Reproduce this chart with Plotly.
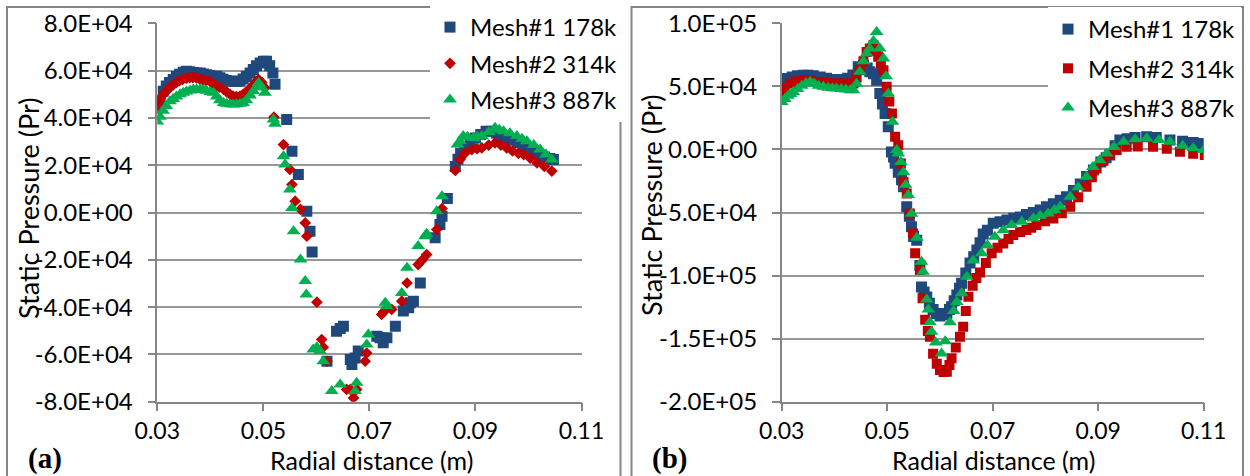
import plotly.graph_objects as go

W, H = 1250, 476

# ---------------- Panel (a) data ----------------
a_m1_x = [0.0300, 0.0305, 0.0311, 0.0317, 0.0323, 0.0330, 0.0336, 0.0342, 0.0349, 0.0355,
          0.0361, 0.0368, 0.0374, 0.0381, 0.0387, 0.0393, 0.0399, 0.0405, 0.0412, 0.0418,
          0.0424, 0.0430, 0.0437, 0.0443, 0.0449, 0.0456, 0.0462, 0.0468, 0.0475, 0.0481,
          0.0487, 0.0494, 0.0500, 0.0506, 0.0512, 0.0518, 0.0522,
          0.0544, 0.0554, 0.0566, 0.0582, 0.0588, 0.0592, 0.0620, 0.0638, 0.0645, 0.0651,
          0.0664, 0.0667, 0.0673, 0.0679, 0.0714, 0.0720, 0.0726, 0.0733, 0.0749, 0.0764,
          0.0774, 0.0777, 0.0783, 0.0796, 0.0824, 0.0833, 0.0837, 0.0847,
          0.0862, 0.0867, 0.0872, 0.0880, 0.0890, 0.0900, 0.0910, 0.0920, 0.0930, 0.0940,
          0.0950, 0.0960, 0.0970, 0.0980, 0.0990, 0.1000, 0.1010, 0.1020, 0.1030, 0.1040, 0.1047]
a_m1_y = [44200, 47500, 51300, 53500, 55000, 56200, 57500, 58500, 59300, 59700,
          59500, 59200, 59000, 59000, 58600, 58200, 57900, 57600, 57600, 57000,
          56300, 55800, 55500, 55500, 55500, 55500, 56500, 57500, 59000, 60500,
          62000, 63200, 64000, 64000, 62000, 59000, 54200,
          39300, 25900, 16100, 500, -7900, -16700, -62900, -50200, -49000, -48100,
          -62200, -64300, -61500, -58600, -52300, -53000, -55100, -53000, -48100, -41700,
          -40300, -38200, -37500, -29800, -10700, -5100, -1600, 5900,
          19500, 22500, 25000, 27500, 29500, 31500, 33000, 34400, 34400, 33500,
          32500, 31500, 30500, 29500, 28000, 26500, 25500, 24500, 23500, 22800, 22400]

a_m2_x = [0.0300, 0.0306, 0.0312, 0.0318, 0.0324, 0.0330, 0.0336, 0.0342, 0.0348, 0.0355,
          0.0361, 0.0367, 0.0374, 0.0380, 0.0386, 0.0392, 0.0399, 0.0405, 0.0411, 0.0417,
          0.0425, 0.0431, 0.0437, 0.0443, 0.0449, 0.0456, 0.0462, 0.0469, 0.0475, 0.0481,
          0.0487, 0.0491, 0.0497, 0.0503, 0.0520,
          0.0538, 0.0550, 0.0554, 0.0560, 0.0570, 0.0579, 0.0582, 0.0601, 0.0610, 0.0613,
          0.0620, 0.0657, 0.0664, 0.0670, 0.0676, 0.0692, 0.0695, 0.0723, 0.0727, 0.0742,
          0.0761, 0.0771, 0.0792, 0.0800, 0.0808, 0.0827, 0.0837,
          0.0862, 0.0871, 0.0880, 0.0893, 0.0903, 0.0912, 0.0925, 0.0937, 0.0948, 0.0959,
          0.0970, 0.0981, 0.0991, 0.1003, 0.1016, 0.1030, 0.1044]
a_m2_y = [45500, 48000, 50000, 51500, 53000, 54000, 55000, 55800, 56300, 56800,
          57000, 57000, 56900, 56500, 56000, 55800, 55500, 54500, 53500, 53000,
          52000, 51000, 50000, 49200, 49000, 49200, 50000, 51300, 52500, 54000,
          55500, 56200, 55000, 52700, 40300,
          28700, 18200, 11800, 4800, 1300, -4400, -10000, -37900, -53700, -57000,
          -62900, -74800, -74800, -78400, -74800, -62900, -59400, -43100, -42000, -41000,
          -37500, -29800, -22000, -20000, -17800, -7200, 1700,
          17800, 22400, 25000, 26600, 27000, 27300, 28500, 29400, 28500, 27300,
          26000, 25000, 24500, 23000, 21000, 19500, 17500]

a_m3_x = [0.0300, 0.0305, 0.0311, 0.0317, 0.0324, 0.0330, 0.0336, 0.0343, 0.0349, 0.0355,
          0.0362, 0.0368, 0.0374, 0.0381, 0.0387, 0.0393, 0.0400, 0.0406, 0.0412, 0.0418,
          0.0425, 0.0431, 0.0437, 0.0443, 0.0449, 0.0456, 0.0462, 0.0468, 0.0475, 0.0481,
          0.0487, 0.0491, 0.0497, 0.0503, 0.0519, 0.0522,
          0.0538, 0.0541, 0.0550, 0.0554, 0.0557, 0.0570, 0.0579, 0.0581, 0.0594, 0.0601,
          0.0607, 0.0613, 0.0629, 0.0645, 0.0673, 0.0676, 0.0695, 0.0698, 0.0730, 0.0733,
          0.0761, 0.0771, 0.0792, 0.0805, 0.0808, 0.0827, 0.0837,
          0.0866, 0.0871, 0.0877, 0.0885, 0.0896, 0.0904, 0.0912, 0.0925, 0.0937, 0.0945,
          0.0953, 0.0965, 0.0978, 0.0988, 0.0997, 0.1010, 0.1022, 0.1033, 0.1044]
a_m3_y = [38500, 40500, 43000, 45000, 47000, 48000, 49000, 50000, 50600, 51200,
          51600, 52000, 52000, 52000, 51800, 51500, 51000, 50600, 49000, 47500,
          46300, 46000, 45800, 45700, 45800, 46000, 46300, 47500, 49500, 51300,
          53000, 54800, 53000, 50600, 39300, 37500,
          23800, 20300, 9700, 1900, -7900, -19900, -29000, -34700, -57900, -57000,
          -58600, -62900, -75500, -72700, -75500, -72000, -55800, -51600, -38200, -39600,
          -34000, -23400, -14200, -10000, -9000, 500, 6900,
          28700, 30100, 32300, 32000, 31500, 32000, 32300, 34000, 35800, 35000,
          34400, 33500, 32300, 31200, 30100, 28500, 26600, 24500, 22400]

# ---------------- Panel (b) data ----------------
b_m1_x = [0.0298, 0.0305, 0.0310, 0.0320, 0.0330, 0.0341, 0.0350, 0.0360, 0.0373, 0.0385,
          0.0395, 0.0404, 0.0415, 0.0425, 0.0435, 0.0445, 0.0455, 0.0462, 0.0467, 0.0474,
          0.0480, 0.0486, 0.0491, 0.0496, 0.0502, 0.0508, 0.0512, 0.0515, 0.0521, 0.0527,
          0.0531, 0.0537, 0.0542, 0.0546, 0.0550, 0.0556, 0.0562, 0.0565, 0.0570, 0.0575,
          0.0580, 0.0587, 0.0593, 0.0600, 0.0607, 0.0613, 0.0618, 0.0622, 0.0627, 0.0632,
          0.0637, 0.0641, 0.0649, 0.0657, 0.0664, 0.0670, 0.0676, 0.0682, 0.0690, 0.0701,
          0.0714, 0.0727, 0.0740, 0.0752, 0.0764, 0.0777, 0.0790, 0.0802, 0.0815, 0.0828,
          0.0840, 0.0853, 0.0866, 0.0878, 0.0891, 0.0905, 0.0915, 0.0922, 0.0932, 0.0941,
          0.0955, 0.0970, 0.0992, 0.1010, 0.1036, 0.1060, 0.1080, 0.1099]
b_m1_y = [44400, 52000, 56300, 57500, 58500, 58900, 58800, 58500, 57500, 56500,
          55500, 54900, 55500, 56500, 59000, 65500, 66500, 64500, 61500, 60000,
          54900, 44400, 36000, 28500, 18000, -2000, -6000, -11000, -18000, -24000,
          -29600, -45500, -53000, -61300, -69000, -72000, -92000, -109000, -113000, -117000,
          -122000, -127000, -130000, -132000, -131000, -130000, -127000, -124700, -120000, -115500,
          -110000, -106000, -98000, -90000, -85000, -79800, -74000, -67000, -64000, -58500,
          -57400, -56000, -54500, -53500, -51500, -50000, -48000, -45500, -43000, -40200,
          -37600, -32500, -27500, -21500, -16400, -10000, -6500, -4500, 3000, 7400,
          8500, 9500, 10000, 9500, 7400, 6500, 5500, 4800]

b_m2_x = [0.0297, 0.0305, 0.0316, 0.0327, 0.0340, 0.0354, 0.0368, 0.0380, 0.0392, 0.0405,
          0.0418, 0.0430, 0.0436, 0.0442, 0.0448, 0.0455, 0.0461, 0.0467, 0.0474, 0.0479,
          0.0483, 0.0488, 0.0493, 0.0499, 0.0504, 0.0509, 0.0515, 0.0521, 0.0526, 0.0531,
          0.0537, 0.0543, 0.0549, 0.0553, 0.0562, 0.0567, 0.0572, 0.0577, 0.0581, 0.0587,
          0.0594, 0.0600, 0.0607, 0.0613, 0.0618, 0.0622, 0.0630, 0.0638, 0.0644, 0.0649,
          0.0654, 0.0662, 0.0669, 0.0676, 0.0687, 0.0698, 0.0709, 0.0720, 0.0730, 0.0739,
          0.0752, 0.0764, 0.0773, 0.0783, 0.0799, 0.0815, 0.0831, 0.0847, 0.0862, 0.0878,
          0.0888, 0.0897, 0.0910, 0.0922, 0.0935, 0.0954, 0.0975, 0.1004, 0.1030, 0.1055,
          0.1080, 0.1102]
b_m2_y = [44400, 48500, 52300, 54000, 54900, 54900, 53500, 52800, 52300, 52300,
          52300, 52300, 52300, 57000, 62800, 70000, 77300, 80000, 82600, 78000,
          73400, 68000, 62800, 49600, 38000, 28500, 10000, 3400, -11100, -25700,
          -34900, -50700, -66600, -82400, -95600, -118000, -135000, -144000, -148500, -162000,
          -170000, -174900, -176500, -176200, -171000, -165600, -157000, -148500, -140600, -128000,
          -116800, -108000, -102000, -97500, -90000, -82400, -78000, -74500, -71000, -67900,
          -65500, -63900, -62000, -60000, -57000, -54700, -50500, -45500, -38000, -29600,
          -22000, -15100, -9000, -4000, -500, 2100, 2300, 2100, 500, -1900,
          -3500, -4500]

b_m3_x = [0.0300, 0.0306, 0.0312, 0.0317, 0.0322, 0.0330, 0.0338, 0.0346, 0.0354, 0.0362,
          0.0370, 0.0379, 0.0388, 0.0396, 0.0404, 0.0413, 0.0422, 0.0430, 0.0436, 0.0442,
          0.0448, 0.0455, 0.0461, 0.0467, 0.0474, 0.0480, 0.0486, 0.0493, 0.0498, 0.0502,
          0.0510, 0.0518, 0.0521, 0.0526, 0.0531, 0.0535, 0.0540, 0.0546, 0.0556, 0.0565,
          0.0568, 0.0575, 0.0578, 0.0581, 0.0584, 0.0592, 0.0603, 0.0610, 0.0619, 0.0626,
          0.0632, 0.0641, 0.0651, 0.0663, 0.0679, 0.0690, 0.0704, 0.0720, 0.0736, 0.0755,
          0.0777, 0.0790, 0.0805, 0.0817, 0.0828, 0.0847, 0.0862, 0.0878, 0.0890, 0.0903,
          0.0916, 0.0930, 0.0948, 0.0970, 0.0992, 0.1015, 0.1036, 0.1060, 0.1080, 0.1100]
b_m3_y = [37700, 40000, 42500, 44000, 45600, 48000, 50500, 52500, 53600, 52000,
          50500, 49600, 49000, 48500, 48300, 48000, 47500, 47000, 47000, 52000,
          61500, 70000, 76100, 80000, 86000, 93200, 80000, 72100, 58000, 44400,
          22000, -500, -3200, -10000, -18000, -28000, -36200, -51000, -70000, -89000,
          -97000, -119000, -127000, -137000, -144500, -153000, -161700, -152000, -137000, -128000,
          -121000, -114000, -101000, -88000, -82400, -76000, -69300, -64000, -60000, -57400,
          -54700, -52500, -50700, -48000, -45500, -37600, -30000, -21700, -14000, -8500,
          -3200, 2000, 6000, 8000, 8700, 7500, 6000, 3000, 1000, -500]

# ---------------- labels ----------------
series_names = ["Mesh#1 178k", "Mesh#2 314k", "Mesh#3 887k"]
x_tickvals = [0.03, 0.05, 0.07, 0.09, 0.11]
x_ticktext = ["0.03", "0.05", "0.07", "0.09", "0.11"]
a_y_tickvals = [80000, 60000, 40000, 20000, 0, -20000, -40000, -60000, -80000]
a_y_ticktext = ["8.0E+04", "6.0E+04", "4.0E+04", "2.0E+04", "0.0E+00",
                "-2.0E+04", "-4.0E+04", "-6.0E+04", "-8.0E+04"]
b_y_tickvals = [100000, 50000, 0, -50000, -100000, -150000, -200000]
b_y_ticktext = ["1.0E+05", "5.0E+04", "0.0E+00", "-5.0E+04", "-1.0E+05", "-1.5E+05", "-2.0E+05"]
x_title = "Radial distance (m)"
y_title = "Static Pressure (Pr)"
panel_labels = ["(a)", "(b)"]

# ---------------- styling ----------------
BLUE = "#1F497D"
RED = "#C00000"
GREEN = "#00B050"
GRID = "#979797"
AXIS = "#868686"
FONT = "Lato"
TICK_SIZE = 24
XTICK_SIZE = 23
TITLE_SIZE = 27
XTITLE_SIZE = 25
LEG_SIZE = 24


def px_x(p):
    return p / W


def px_y(p):
    return 1 - p / H


fig = go.Figure()

# panel (a)
fig.add_trace(go.Scatter(x=a_m1_x, y=a_m1_y, mode="markers", name=series_names[0],
                         marker=dict(symbol="square", size=11, color=BLUE), legendgroup="a1",
                         xaxis="x", yaxis="y", legend="legend"))
fig.add_trace(go.Scatter(x=a_m2_x, y=a_m2_y, mode="markers", name=series_names[1],
                         marker=dict(symbol="diamond", size=9, color=RED), legendgroup="a2",
                         xaxis="x", yaxis="y", legend="legend"))
fig.add_trace(go.Scatter(x=a_m3_x, y=a_m3_y, mode="markers", name=series_names[2],
                         marker=dict(symbol="triangle-up", size=12, color=GREEN), legendgroup="a3",
                         xaxis="x", yaxis="y", legend="legend"))
# panel (b)
fig.add_trace(go.Scatter(x=b_m1_x, y=b_m1_y, mode="markers", name=series_names[0],
                         marker=dict(symbol="square", size=11, color=BLUE), legendgroup="b1",
                         xaxis="x2", yaxis="y2", legend="legend2"))
fig.add_trace(go.Scatter(x=b_m2_x, y=b_m2_y, mode="markers", name=series_names[1],
                         marker=dict(symbol="square", size=10, color=RED), legendgroup="b2",
                         xaxis="x2", yaxis="y2", legend="legend2"))
fig.add_trace(go.Scatter(x=b_m3_x, y=b_m3_y, mode="markers", name=series_names[2],
                         marker=dict(symbol="triangle-up", size=12, color=GREEN), legendgroup="b3",
                         xaxis="x2", yaxis="y2", legend="legend2"))

ydom = [px_y(401.7), px_y(23.3)]

common_x = dict(range=[0.03, 0.11], tickvals=x_tickvals, ticktext=x_ticktext,
                showgrid=False, zeroline=False, showline=True, linecolor=AXIS, linewidth=1.5,
                ticks="outside", ticklen=8, tickcolor=AXIS, tickwidth=1.5,
                tickfont=dict(family=FONT, size=XTICK_SIZE, color="black"),
                ticklabelstandoff=0, fixedrange=True, automargin=False)
common_y = dict(showgrid=True, gridcolor=GRID, gridwidth=1.5, zeroline=False,
                showline=True, linecolor=AXIS, linewidth=1.5,
                ticks="outside", ticklen=8, tickcolor=AXIS, tickwidth=1.5,
                tickfont=dict(family=FONT, size=TICK_SIZE, color="black"),
                ticklabelstandoff=10, fixedrange=True, automargin=False)

fig.update_layout(
    width=W, height=H,
    margin=dict(l=0, r=0, t=0, b=0, pad=0, autoexpand=False),
    paper_bgcolor="white", plot_bgcolor="white",
    font=dict(family=FONT, color="black"),
    xaxis=dict(domain=[px_x(157.3), px_x(581.5)], anchor="y", **common_x),
    yaxis=dict(domain=ydom, anchor="x", range=[-80000, 80000],
               tickvals=a_y_tickvals, ticktext=a_y_ticktext, **common_y),
    xaxis2=dict(domain=[px_x(781.7), px_x(1203.7)], anchor="y2", **common_x),
    yaxis2=dict(domain=ydom, anchor="x2", range=[-200000, 100000],
                tickvals=b_y_tickvals, ticktext=b_y_ticktext, **common_y),
    legend=dict(x=px_x(430), y=px_y(5), xanchor="left", yanchor="top",
                bgcolor="white", borderwidth=0, tracegroupgap=2,
                font=dict(family=FONT, size=LEG_SIZE, color="black")),
    legend2=dict(x=px_x(1048), y=px_y(7), xanchor="left", yanchor="top",
                 bgcolor="white", borderwidth=0, tracegroupgap=5,
                 font=dict(family=FONT, size=LEG_SIZE, color="black")),
    showlegend=True,
)

# panel frames
fig.add_shape(type="rect", xref="paper", yref="paper",
              x0=px_x(7), x1=px_x(620.5), y0=-0.05, y1=px_y(7),
              line=dict(color=AXIS, width=2), fillcolor="rgba(0,0,0,0)", layer="below")
fig.add_shape(type="rect", xref="paper", yref="paper",
              x0=px_x(631.5), x1=px_x(1243), y0=-0.05, y1=px_y(7),
              line=dict(color=AXIS, width=2), fillcolor="rgba(0,0,0,0)", layer="below")

# axis titles and panel labels
fig.add_annotation(text=y_title, xref="paper", yref="paper", x=px_x(28), y=px_y(209),
                   textangle=-90, showarrow=False, xanchor="center", yanchor="middle",
                   font=dict(family=FONT, size=TITLE_SIZE, color="black"))
fig.add_annotation(text=y_title, xref="paper", yref="paper", x=px_x(651), y=px_y(206),
                   textangle=-90, showarrow=False, xanchor="center", yanchor="middle",
                   font=dict(family=FONT, size=TITLE_SIZE, color="black"))
fig.add_annotation(text=x_title, xref="paper", yref="paper", x=px_x(371), y=px_y(459.6),
                   showarrow=False, xanchor="center", yanchor="middle",
                   font=dict(family=FONT, size=XTITLE_SIZE, color="black"))
fig.add_annotation(text=x_title, xref="paper", yref="paper", x=px_x(993), y=px_y(459.6),
                   showarrow=False, xanchor="center", yanchor="middle",
                   font=dict(family=FONT, size=XTITLE_SIZE, color="black"))
fig.add_annotation(text="<b>" + panel_labels[0] + "</b>", xref="paper", yref="paper",
                   x=px_x(45), y=px_y(458), showarrow=False, xanchor="center", yanchor="middle",
                   font=dict(family="Liberation Serif", size=29, color="black"))
fig.add_annotation(text="<b>" + panel_labels[1] + "</b>", xref="paper", yref="paper",
                   x=px_x(669), y=px_y(458), showarrow=False, xanchor="center", yanchor="middle",
                   font=dict(family="Liberation Serif", size=29, color="black"))

fig.write_html("out.html", config={"displayModeBar": False})
